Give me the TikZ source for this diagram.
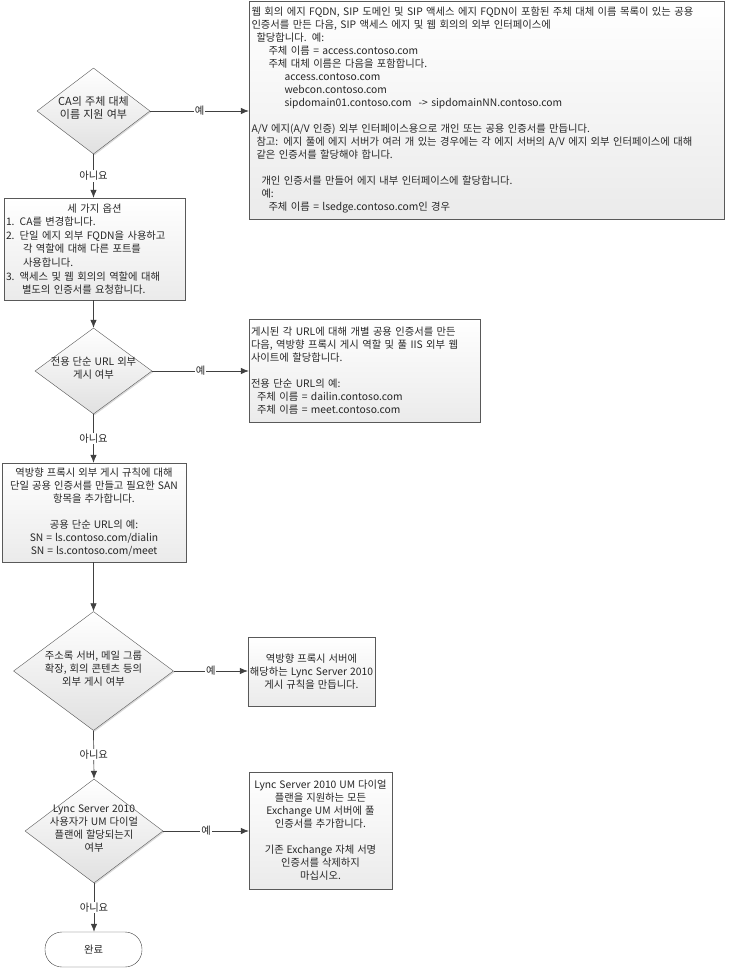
\documentclass[tikz,border=0pt]{standalone}
\usepackage{fontspec}
\setmainfont[WordSpace=1.3]{Noto Sans CJK KR}
\usepackage{tikz}
\usetikzlibrary{shapes.geometric,arrows.meta,shadows}

\newcommand{\qtext}[1]{\raisebox{-2pt}{\makebox[0pt]{\smash{\begin{tabular}{@{}c@{}}#1\end{tabular}}}}}

\begin{document}
\begin{tikzpicture}[x=1pt,y=-1pt,
  every node/.style={font=\fontsize{10.3}{13}\selectfont, text=black!85},
  decision/.style={diamond, draw=black!65, top color=white, bottom color=black!12, inner sep=0pt,
    drop shadow={shadow xshift=1.2pt, shadow yshift=-1.2pt, opacity=.3}},
  stepbox/.style={rectangle, draw=black!65, top color=white, bottom color=black!8, inner sep=2pt,
    drop shadow={shadow xshift=1.2pt, shadow yshift=-1.2pt, opacity=.3}},
  finish/.style={rectangle, rounded corners=17pt, draw=black!75, fill=white, minimum width=97, minimum height=35},
  flow/.style={draw=black!75, line width=0.7pt, -{Latex[length=8pt,width=6.5pt]}},
  answer/.style={midway, fill=white, inner sep=1pt}]

\useasboundingbox (0,0) rectangle (731,968);

% questions down the left side
\node[decision, minimum width=113, minimum height=86, font=\fontsize{11}{13.5}\selectfont] (q1) at (93.5,111) {\qtext{CA의 주체 대체\\이름 지원 여부}};
\node[decision, minimum width=117, minimum height=86] (q2) at (93.5,371) {\qtext{전용 단순 URL 외부\\게시 여부}};
\node[decision, minimum width=160, minimum height=119] (q3) at (93.5,671) {\qtext{주소록 서버, 메일 그룹\\확장, 회의 콘텐츠 등의\\외부 게시 여부}};
\node[decision, minimum width=138, minimum height=104] (q4) at (94,831) {\qtext{Lync Server 2010\\사용자가 UM 다이얼\\플랜에 할당되는지\\여부}};
\node[finish] (done) at (93.5,949.5) {완료};

% boxes
\node[stepbox, minimum width=475, minimum height=218, text width=470, align=left] (b1) at (486.5,110) {%
웹 회의 에지 FQDN, SIP 도메인 및 SIP 액세스 에지 FQDN이 포함된 주체 대체 이름 목록이 있는 공용\\
인증서를 만든 다음, SIP 액세스 에지 및 웹 회의의 외부 인터페이스에\\
\hspace*{5pt}할당합니다. 예:\\
\hspace*{17pt}주체 이름 = access.contoso.com\\
\hspace*{17pt}주체 대체 이름은 다음을 포함합니다.\\
\hspace*{33pt}access.contoso.com\\
\hspace*{33pt}webcon.contoso.com\\
\hspace*{33pt}sipdomain01.contoso.com\ \ -> sipdomainNN.contoso.com\\[13pt]
A/V 에지(A/V 인증) 외부 인터페이스용으로 개인 또는 공용 인증서를 만듭니다.\\
\hspace*{5pt}참고: 에지 풀에 에지 서버가 여러 개 있는 경우에는 각 에지 서버의 A/V 에지 외부 인터페이스에 대해\\
\hspace*{5pt}같은 인증서를 할당해야 합니다.\\[13pt]
\hspace*{10pt}개인 인증서를 만들어 에지 내부 인터페이스에 할당합니다.\\
\hspace*{10pt}예:\\
\hspace*{17pt}주체 이름 = lsedge.contoso.com인 경우};

\node[stepbox, minimum width=181, minimum height=102, text width=177, align=left,
  font=\fontsize{10.3}{13.6}\selectfont] (b2) at (94.5,249) {%
\makebox[\linewidth]{세 가지 옵션}\\
1. CA를 변경합니다.\\
2. 단일 에지 외부 FQDN을 사용하고\\
\hspace*{17pt}각 역할에 대해 다른 포트를\\
\hspace*{17pt}사용합니다.\\
3. 액세스 및 웹 회의의 역할에 대해\\
\hspace*{16pt}별도의 인증서를 요청합니다.};

\node[stepbox, minimum width=231, minimum height=103, text width=227, align=left] (b3) at (364.5,370.5) {%
게시된 각 URL에 대해 개별 공용 인증서를 만든\\
다음, 역방향 프록시 게시 역할 및 풀 IIS 외부 웹\\
사이트에 할당합니다.\\[13pt]
전용 단순 URL의 예:\\
\hspace*{6pt}주체 이름 = dailin.contoso.com\\
\hspace*{6pt}주체 이름 = meet.contoso.com};

\node[stepbox, minimum width=184, minimum height=99, align=center] (b4) at (94,512.5) {%
역방향 프록시 외부 게시 규칙에 대해\\
단일 공용 인증서를 만들고 필요한 SAN\\
항목을 추가합니다.\\[13pt]
공용 단순 URL의 예:\\
SN = ls.contoso.com/dialin\\
SN = ls.contoso.com/meet};

\node[stepbox, minimum width=125, minimum height=69, align=center] (b5) at (311.5,671.5) {%
역방향 프록시 서버에\\해당하는 Lync Server 2010\\게시 규칙을 만듭니다.};

\node[stepbox, minimum width=143, minimum height=117, align=center] (b6) at (320.5,830.5) {%
Lync Server 2010 UM 다이얼\\플랜을 지원하는 모든\\Exchange UM 서버에 풀\\인증서를 추가합니다.\\[13pt]
기존 Exchange 자체 서명\\인증서를 삭제하지\\마십시오.};

% yes branches
\draw[flow] (q1.east) -- (q1.east -| b1.west) node[answer] (y1) {예};
\draw[flow] (q2.east) -- (q2.east -| b3.west) node[answer] (y2) {예};
\draw[flow] (q3.east) -- (q3.east -| b5.west) node[answer] (y3) {예};
\draw[flow] (q4.east) -- (q4.east -| b6.west) node[answer] (y4) {예};

% no branches
\draw[flow] (q1.south) -- (q1.south |- b2.north) node[answer] (n1) {아니요};
\draw[flow] (b2.south -| q2.north) -- (q2.north);
\draw[flow] (q2.south) -- (q2.south |- b4.north) node[answer] (n2) {아니요};
\draw[flow] (b4.south -| q3.north) -- (q3.north);
\draw[flow] (q3.south) -- (q4.north) node[answer] (n3) {아니요};
\draw[flow] (q4.south) -- (q4.south |- done.north) node[answer] (n4) {아니요};

\end{tikzpicture}
\end{document}
